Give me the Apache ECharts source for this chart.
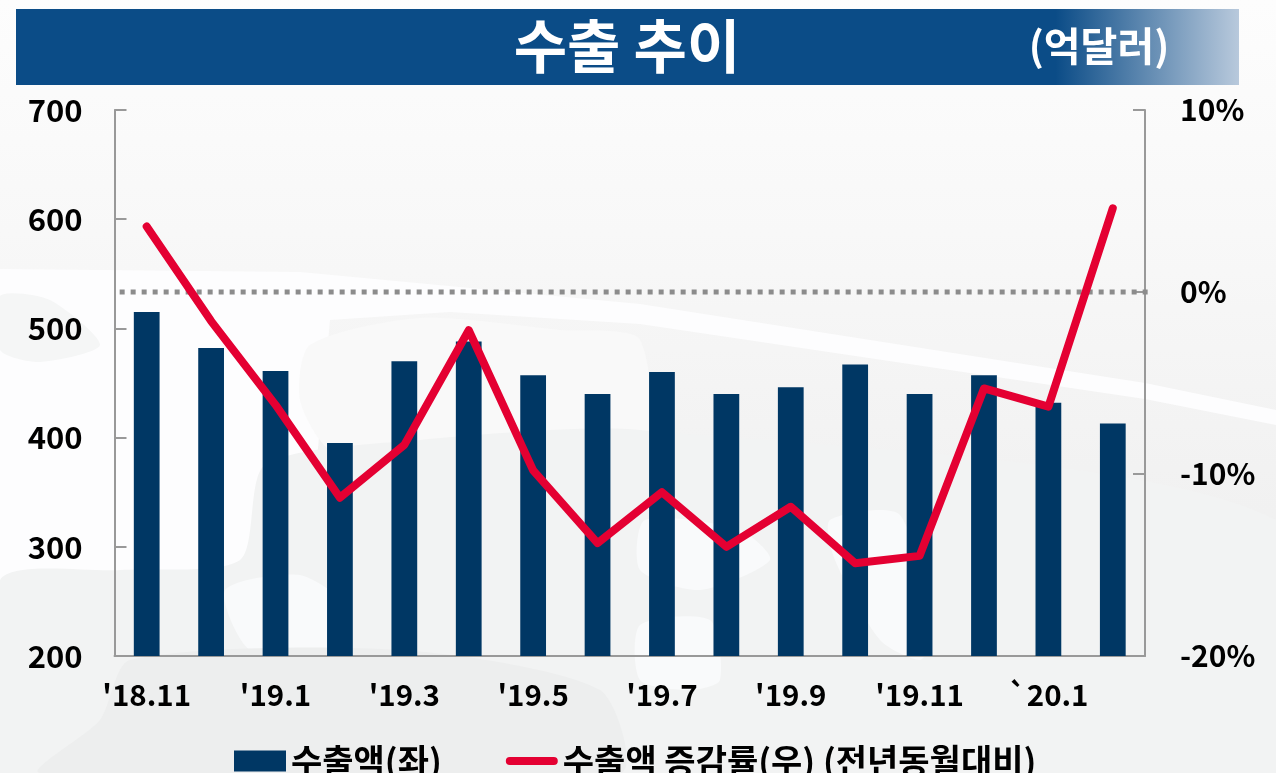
<!DOCTYPE html>
<html><head><meta charset="utf-8">
<style>html,body{margin:0;padding:0;background:#fafafa;overflow:hidden}#c{width:1276px;height:773px}</style>
<script src="https://cdn.jsdelivr.net/npm/echarts@6/dist/echarts.min.js"></script></head>
<body><div id="c"></div>
<script>
const categories=["'18.11","","'19.1","","'19.3","","'19.5","","'19.7","","'19.9","","'19.11","","`20.1",""];
const exportValues=[515,482,461,395,470,488,457,440,460,440,446,467,440,457,432,413];
const growthRates=[3.6,-1.6,-6.2,-11.3,-8.4,-2.1,-9.8,-13.8,-11,-14,-11.8,-14.9,-14.5,-5.3,-6.3,4.6];
const zeroLine=[[0.005,0],[1.005,0]];
const font='"Noto Sans CJK KR","Noto Sans",sans-serif';
const chart=echarts.init(document.getElementById('c'),null,{renderer:'canvas'});
const land='#f2f3f3', pale='#f9fafb';
function blob(points,fill,z){return {type:'polygon',z:z,silent:true,shape:{points:points,smooth:0.25},style:{fill:fill}};}
const lineIcon='path://M0 0h.01v.01h-.01z M52 21h.01v.01h-.01z M4 6.5 H48 A4 4 0 0 1 48 14.5 H4 A4 4 0 0 1 4 6.5 Z';
chart.setOption({
 animation:false,backgroundColor:'#fafafa',
 graphic:[
  {type:'rect',z:-10,silent:true,shape:{x:0,y:0,width:1276,height:773},style:{fill:{type:'linear',x:0,y:0,x2:0,y2:1,colorStops:[{offset:0,color:'#fdfdfd'},{offset:0.3,color:'#f8f8f8'},{offset:0.55,color:'#f3f3f3'},{offset:1,color:'#ebebeb'}]}}},
  {type:'polygon',z:-9,silent:true,shape:{points:[[0,269],[300,272],[640,304],[1145,383],[1276,410],[1276,425],[1145,399],[640,324],[450,312],[330,320],[300,640],[0,640]]},style:{fill:'#fdfdfe'}},
  blob([[310,345],[420,318],[560,330],[640,340],[640,470],[420,470],[330,450],[300,400]],'#f9f9f9',-8),
  blob([[0,296],[50,300],[100,345],[40,362],[0,350]],'#f5f6f6',-8),
  blob([[265,465],[420,440],[640,430],[1276,520],[1276,773],[0,773],[0,580],[120,570],[240,560]],land,-8),
  blob([[225,590],[300,575],[350,610],[330,650],[250,650]],pale,-7),
  blob([[645,520],[740,530],[770,560],[700,590],[640,570]],pale,-7),
  blob([[830,520],[900,515],[930,640],[920,660],[880,640],[835,560]],pale,-7),
  blob([[640,625],[710,620],[720,680],[690,690],[640,680]],pale,-7),
  blob([[130,660],[400,650],[600,690],[620,773],[40,773],[100,720]],'#edeeee',-7),
  {type:'rect',z:5,silent:true,shape:{x:16,y:9,width:1223,height:76},style:{fill:{type:'linear',x:0,y:0,x2:1,y2:0,colorStops:[{offset:0,color:'#0b4c87'},{offset:0.85,color:'#0b4c87'},{offset:1,color:'#b8c9dc'}]}}},
  {type:'text',z:6,silent:true,x:627,y:46,style:{text:'수출 추이',fill:'#fff',font:'bold 58px '+font,textAlign:'center',textVerticalAlign:'middle'}},
  {type:'text',z:6,silent:true,x:1099,y:46,style:{text:'(억달러)',fill:'#fff',font:'bold 40px '+font,textAlign:'center',textVerticalAlign:'middle'}}
 ],
 legend:{top:739,left:229,itemGap:64,selectedMode:false,itemWidth:52,itemHeight:21,
  textStyle:{fontFamily:font,fontWeight:'bold',fontSize:34,color:'#000'},
  data:[{name:'수출액(좌)',icon:'rect'},{name:'수출액 증감률(우) (전년동월대비)',icon:lineIcon}]},
 grid:{left:114.5,right:131,top:110,bottom:117},
 xAxis:[{type:'category',data:categories,
  axisLine:{onZero:false,lineStyle:{color:'#999',width:2}},axisTick:{show:false},
  axisLabel:{interval:0,fontFamily:font,fontWeight:'bold',fontSize:29.5,color:'#000',margin:24}},
  {type:'value',min:0,max:1,show:false,axisLine:{onZero:false}}],
 yAxis:[
  {type:'value',min:200,max:700,interval:100,splitLine:{show:false},
   axisLine:{show:true,onZero:false,lineStyle:{color:'#999',width:2}},axisTick:{show:true,inside:true,length:12,lineStyle:{color:'#999',width:2}},
   axisLabel:{fontFamily:font,fontWeight:'bold',fontSize:31,color:'#000',margin:32}},
  {type:'value',min:-20,max:10,interval:10,splitLine:{show:false},position:'right',
   axisLine:{show:true,onZero:false,lineStyle:{color:'#999',width:2}},axisTick:{show:true,inside:true,length:12,lineStyle:{color:'#999',width:2}},
   axisLabel:{fontFamily:font,fontWeight:'bold',fontSize:30,color:'#000',margin:35,formatter:'{value}%'}}
 ],
 series:[
  {name:'수출액(좌)',type:'bar',data:exportValues,barWidth:'40%',itemStyle:{color:'#003764'},z:2},
  {name:'기준선',type:'line',xAxisIndex:1,yAxisIndex:1,data:zeroLine,symbol:'none',clip:false,silent:true,
   lineStyle:{color:'#8c8c8c',type:[5,6],width:5,cap:'butt'},z:3},
  {name:'수출액 증감률(우) (전년동월대비)',type:'line',yAxisIndex:1,data:growthRates,symbol:'none',
   lineStyle:{color:'#e40032',width:8,cap:'round',join:'round'},itemStyle:{color:'#e40032'},z:4}
 ]
});
</script></body></html>
